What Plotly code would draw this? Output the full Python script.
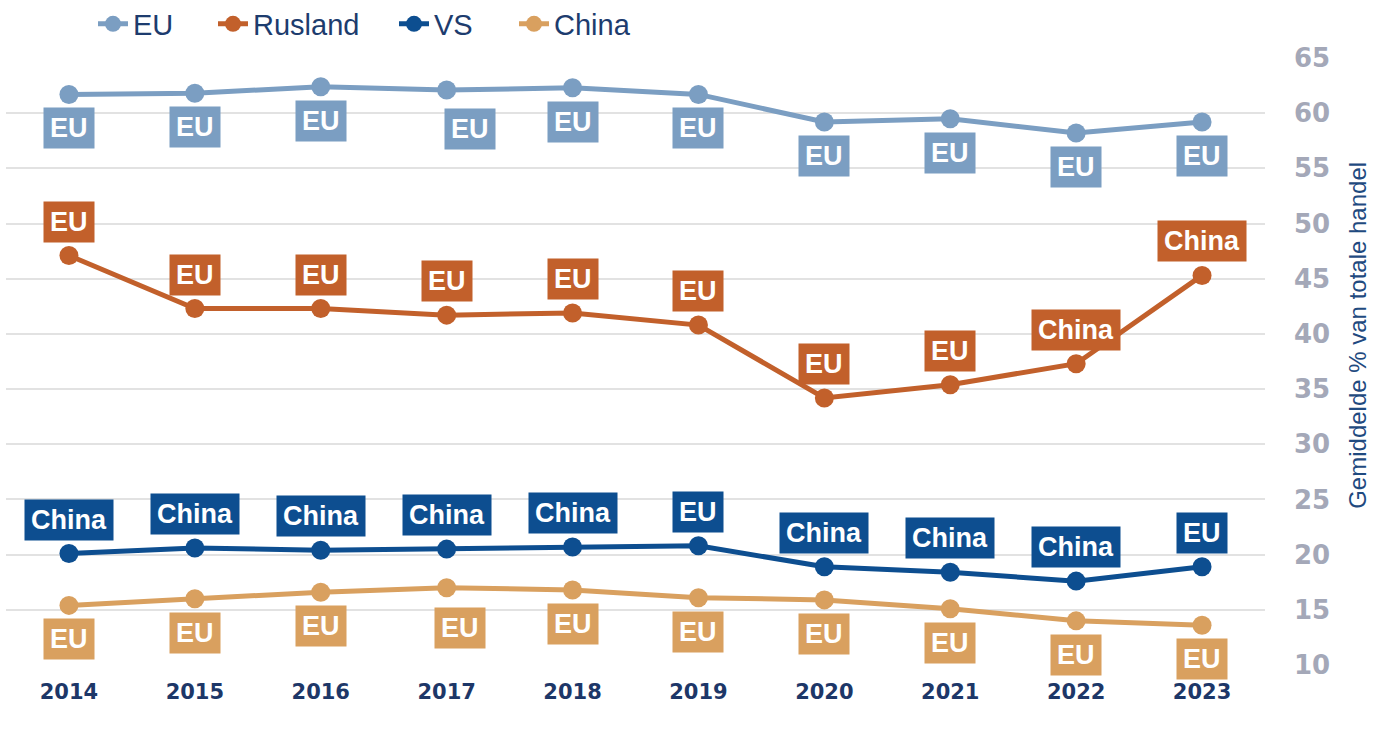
import plotly.graph_objects as go

years = [2014, 2015, 2016, 2017, 2018, 2019, 2020, 2021, 2022, 2023]

eu = [61.7, 61.8, 62.4, 62.1, 62.3, 61.7, 59.2, 59.5, 58.2, 59.2]
rusland = [47.1, 42.3, 42.3, 41.7, 41.9, 40.8, 34.2, 35.4, 37.3, 45.3]
vs = [20.1, 20.6, 20.4, 20.5, 20.7, 20.8, 18.9, 18.4, 17.6, 18.9]
china = [15.4, 16.0, 16.6, 17.0, 16.8, 16.1, 15.9, 15.1, 14.0, 13.6]

eu_labels = ["EU"] * 10
rusland_labels = ["EU", "EU", "EU", "EU", "EU", "EU", "EU", "EU", "China", "China"]
vs_labels = ["China", "China", "China", "China", "China", "EU", "China", "China", "China", "EU"]
china_labels = ["EU"] * 10

series_names = ["EU", "Rusland", "VS", "China"]
y_ticks = [10, 15, 20, 25, 30, 35, 40, 45, 50, 55, 60, 65]
y_title = "Gemiddelde % van totale handel"

colors = {"EU": "#7b9ec2", "Rusland": "#c2602b", "VS": "#0d4e90", "China": "#d9a05f"}
label_side = {"EU": -1, "Rusland": 1, "VS": 1, "China": -1}
label_nudge = {("EU", 2017): (23, 5), ("China", 2017): (13, 6)}
legend_x_px = {"EU": 93, "Rusland": 213, "VS": 394, "China": 514}
legend_ids = {"EU": "legend", "Rusland": "legend2", "VS": "legend3", "China": "legend4"}

data = {"EU": (eu, eu_labels), "Rusland": (rusland, rusland_labels),
        "VS": (vs, vs_labels), "China": (china, china_labels)}

W, H = 1381, 743
fig = go.Figure()
annotations = []
legend_layouts = {}
legend_font = dict(family="Liberation Sans, Arial, sans-serif", size=29, color="#1d3c6e")
for name in series_names:
    vals, labs = data[name]
    c = colors[name]
    fig.add_trace(go.Scatter(
        x=years, y=vals, name=name, mode="lines+markers",
        line=dict(color=c, width=5),
        marker=dict(color=c, size=19),
        legend=legend_ids[name],
        hoverinfo="x+y+name",
    ))
    legend_layouts[legend_ids[name]] = dict(
        orientation="h", xref="container", yref="container",
        x=legend_x_px[name] / W, y=1 - 24 / H, xanchor="left", yanchor="middle",
        font=legend_font, bgcolor="rgba(0,0,0,0)", itemclick=False,
    )
    for x, v, t in zip(years, vals, labs):
        dx, dy = label_nudge.get((name, x), (0, 0))
        annotations.append(dict(
            x=x, y=v, xref="x", yref="y", text="<b>" + t + "</b>",
            showarrow=False, yshift=34 * label_side[name] - dy, xshift=dx,
            font=dict(family="Liberation Sans, Arial, sans-serif", size=27, color="white"),
            bgcolor=c, borderpad=6, height=28,
        ))

annotations.append(dict(
    text=y_title, xref="paper", yref="paper", x=1.0734, y=0.543,
    showarrow=False, textangle=-90, xanchor="center", yanchor="middle",
    font=dict(family="Liberation Sans, Arial, sans-serif", size=24, color="#1f4a80"),
))

fig.update_layout(
    width=W, height=H,
    margin=dict(l=6, r=116, t=57.5, b=78.3, autoexpand=False),
    paper_bgcolor="white", plot_bgcolor="white",
    showlegend=True,
    annotations=annotations,
    xaxis=dict(
        range=[2013.5, 2023.5], tickmode="array", tickvals=years,
        ticktext=[str(y) for y in years],
        showgrid=False, zeroline=False, showline=False, automargin=False,
        tickfont=dict(family="DejaVu Sans, sans-serif", size=21, color="#1d3768", weight="bold"),
        ticklabelstandoff=12,
    ),
    yaxis=dict(
        range=[10, 65], side="right", tickmode="array", tickvals=y_ticks,
        showgrid=True, gridcolor="#e2e2e2", gridwidth=1.5, zeroline=False,
        showline=False, automargin=False,
        tickfont=dict(family="DejaVu Sans, sans-serif", size=26, color="#a4a8b8", weight="bold"),
        ticklabelstandoff=28,
    ),
    **legend_layouts,
)

fig.write_html("out.html", config={"displayModeBar": False},
               post_script="document.body.style.margin='0px';")
